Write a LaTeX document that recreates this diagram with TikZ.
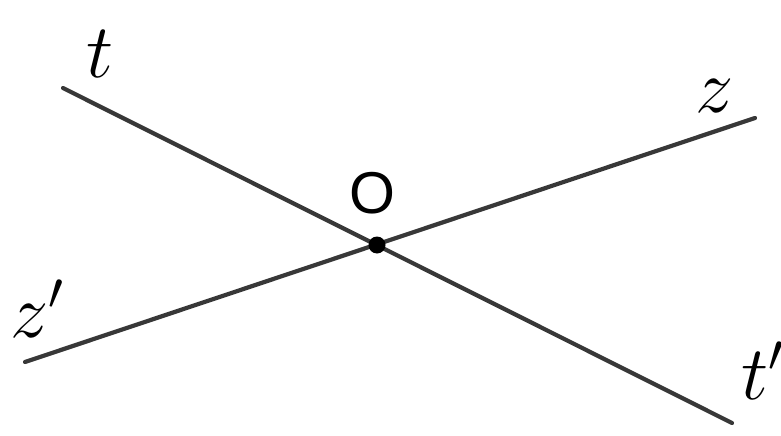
\documentclass[tikz,border=0pt]{standalone}
\usepackage{graphicx}
\usepackage{fontspec}
\newfontfamily\osf{Liberation Sans}
\newcommand{\biglbl}[1]{\scalebox{1.75}{\fontsize{24}{28}\selectfont$#1$}}
\newcommand{\bigO}{\scalebox{1.4}{\osf\fontsize{24}{28}\selectfont O}}
\begin{document}
\begin{tikzpicture}[x=0.02cm,y=-0.02cm,
  ln/.style={line width=2.4pt,color=black!78,line cap=round},
  lbl/.style={inner sep=0pt,anchor=base west}]
\useasboundingbox (0,0) rectangle (781,436);
\coordinate (O) at (377,245);
\coordinate (t) at (63,88);
\coordinate (t2) at (732,423);
\coordinate (z2) at (25,362);
\coordinate (z) at (755,118);
\draw[ln] (t) -- (t2);
\draw[ln] (z2) -- (z);
\fill[black] (O) circle (8.5);
\node[lbl] (lt) at (86,77) {\biglbl{t}};
\node[lbl] (lt2) at (741,399) {\biglbl{t'}};
\node[lbl] (lz) at (695,112) {\biglbl{z}};
\node[lbl] (lz2) at (10,337) {\biglbl{z'}};
\node[inner sep=0pt,anchor=base] (lO) at (372,213) {\bigO};
\end{tikzpicture}
\end{document}
